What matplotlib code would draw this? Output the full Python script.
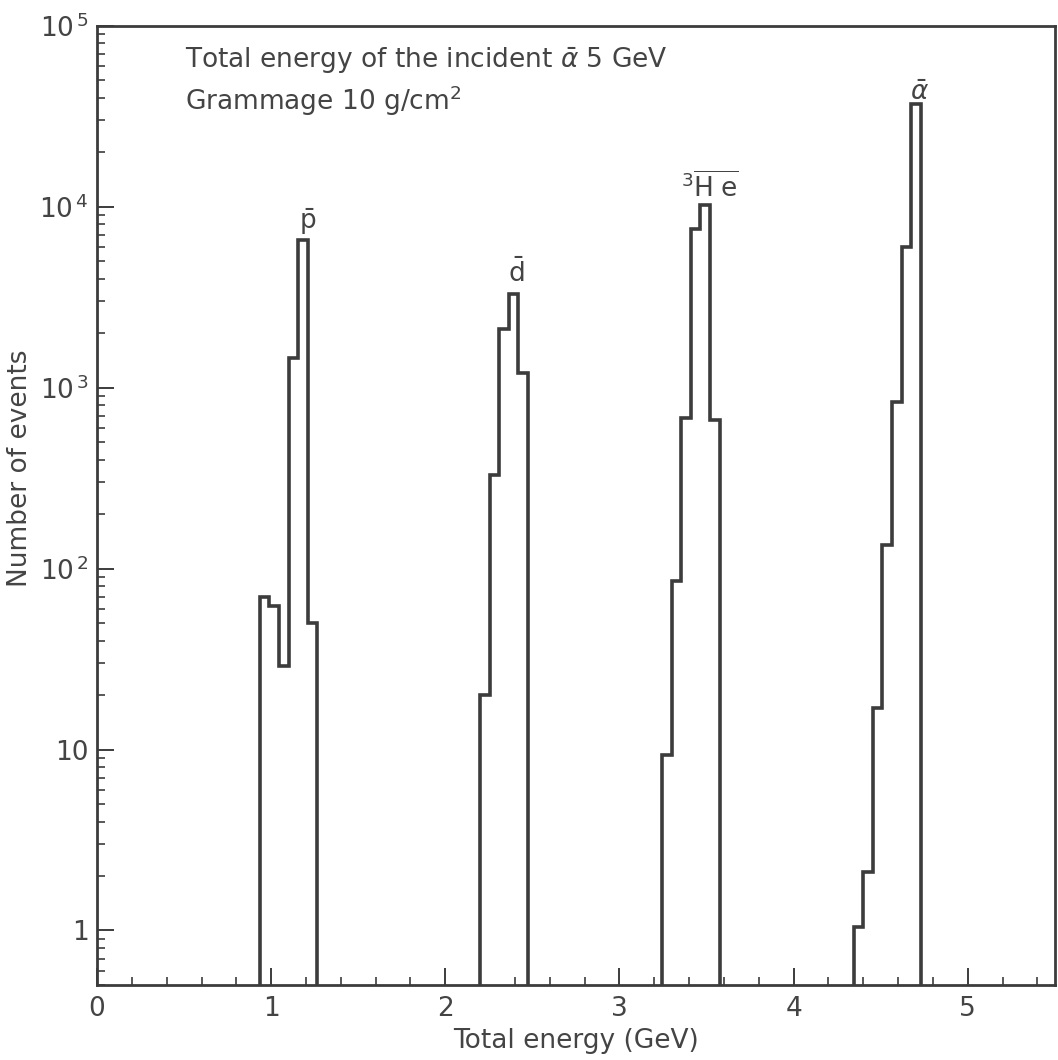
import numpy as np
import matplotlib
matplotlib.use("Agg")
import matplotlib.pyplot as plt
from matplotlib.ticker import FuncFormatter, LogLocator, MultipleLocator

plt.rcParams['mathtext.fontset'] = 'dejavusans'
plt.rcParams['font.family'] = ['DejaVu Sans']

# histogram bin edges (GeV) and counts for each peak
pbar_edges = [0.935, 0.990, 1.045, 1.100, 1.155, 1.210, 1.265]
pbar_counts = [70, 62, 29, 1450, 6500, 50]

dbar_edges = [2.200, 2.255, 2.310, 2.365, 2.420, 2.475]
dbar_counts = [20, 330, 2100, 3300, 1200]

he3_edges = [3.245, 3.300, 3.355, 3.410, 3.465, 3.520, 3.575]
he3_counts = [9.3, 85, 680, 7500, 10200, 660]

alpha_edges = [4.345, 4.400, 4.455, 4.510, 4.565, 4.620, 4.675, 4.730]
alpha_counts = [1.05, 2.1, 17, 135, 830, 6000, 37000]

peak_labels = [r'$\bar{\mathrm{p}}$', r'$\bar{\mathrm{d}}$', r'$^{3}\overline{\mathrm{H}\;\mathrm{e}}$', r'$\bar{\alpha}$']
label_pos = [(1.211, 6800), (2.405, 3550), (3.52, 10500), (4.725, 36000)]

col = '#3c3c3c'
tcol = '#444444'
fs = 19
fig = plt.figure(figsize=(10.58, 10.60), dpi=100)
ax = fig.add_axes([0.0917, 0.0708, 0.9053, 0.905])

for e, c in [(pbar_edges, pbar_counts), (dbar_edges, dbar_counts),
             (he3_edges, he3_counts), (alpha_edges, alpha_counts)]:
    ax.stairs(c, e, baseline=0.5, color=col, lw=2.6)

ax.set_yscale('log')
ax.set_xlim(0, 5.5)
ax.set_ylim(0.5, 1e5)

ax.xaxis.set_major_locator(MultipleLocator(1))
ax.xaxis.set_minor_locator(MultipleLocator(0.2))
ax.yaxis.set_major_locator(LogLocator(base=10, numticks=10))
ax.yaxis.set_minor_locator(LogLocator(base=10, subs=np.arange(2, 10), numticks=20))

def yfmt(v, pos):
    n = int(round(np.log10(v)))
    if n == 0:
        return '1'
    if n == 1:
        return '10'
    return r'$10^{\,%d}$' % n

ax.yaxis.set_major_formatter(FuncFormatter(yfmt))
ax.yaxis.set_minor_formatter(FuncFormatter(lambda v, p: ''))

ax.tick_params(which='both', direction='in', top=False, right=False, colors=col, labelcolor=tcol)
ax.tick_params(which='major', length=12, width=1.4, labelsize=fs)
ax.tick_params(axis='y', which='major', pad=6)
ax.tick_params(axis='x', which='major', pad=8)
ax.tick_params(which='minor', length=6, width=1.2)
for s in ax.spines.values():
    s.set_color(col)
    s.set_linewidth(2.0)

ax.set_xlabel('Total energy (GeV)', fontsize=fs, color=tcol, labelpad=4)
ax.set_ylabel('Number of events', fontsize=fs, color=tcol, va='center')
ax.yaxis.set_label_coords(-0.080, 0.539)

ax.text(0.092, 0.963, r'Total energy of the incident $\bar{\alpha}$ 5 GeV', transform=ax.transAxes,
        fontsize=fs, color=tcol, va='center', ha='left')
ax.text(0.092, 0.922, r'Grammage 10 g/cm$^{2}$', transform=ax.transAxes,
        fontsize=fs, color=tcol, va='center', ha='left')

for lab, (x, y) in zip(peak_labels, label_pos):
    ax.text(x, y, lab, fontsize=fs, color=tcol, ha='center', va='bottom')

fig.savefig('out.png', dpi=100)
